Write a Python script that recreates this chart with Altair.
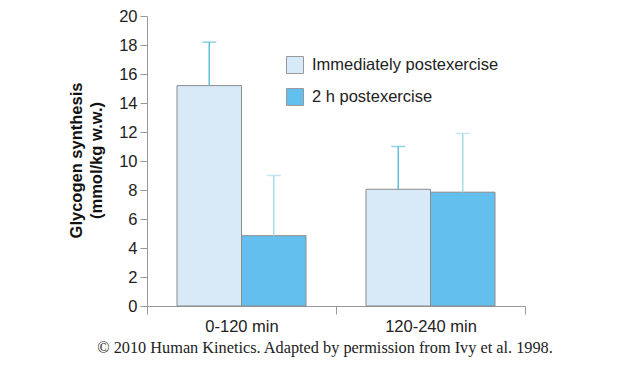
import altair as alt
import pandas as pd

periods = ["0-120 min", "120-240 min"]
series = ["Immediately postexercise", "2 h postexercise"]
means = [[15.2, 4.85], [8.05, 7.85]]
uppers = [[18.2, 9.0], [11.0, 11.9]]
bar_colors = ["#d8eaf8", "#63bfed"]
err_colors = ["#62bfda", "#a9dbe8"]
y_ticks = list(range(0, 21, 2))
footer = "© 2010 Human Kinetics. Adapted by permission from Ivy et al. 1998."

FS = 16.5

rows = []
for i, p in enumerate(periods):
    for j, s in enumerate(series):
        rows.append({"period": p, "series": s, "mean": means[i][j],
                     "upper": uppers[i][j], "ecolor": err_colors[j]})
df = pd.DataFrame(rows)

x_axis = alt.Axis(title=None, labelAngle=0, tickBand="extent", tickSize=8,
                  labelFontSize=FS, labelPadding=4, labelColor="#222",
                  domainColor="#999", tickColor="#999",
                  labelFont="Liberation Sans")
x_scale = alt.Scale(paddingInner=0, paddingOuter=0)
xo_enc = alt.XOffset("series:N", sort=series,
                     scale=alt.Scale(paddingOuter=0.465, paddingInner=0))

y_scale = alt.Scale(domain=[0, 20], nice=False)
y_axis = alt.Axis(values=y_ticks, grid=False, tickSize=7, labelOverlap=False,
                  labelFontSize=FS, labelPadding=3, labelColor="#222",
                  domainColor="#999", tickColor="#999",
                  labelFont="Liberation Sans",
                  title=["Glycogen synthesis", "(mmol/kg w.w.)"],
                  titleFontSize=FS, titleFontWeight="bold",
                  titleFont="Liberation Sans", titleColor="#111",
                  titleLineHeight=20, titleX=-71, titleY=144,
                  titleAngle=270, titleAlign="center",
                  titleBaseline="middle")

base = alt.Chart(df)

bars = base.mark_bar(stroke="#8c8c8c", strokeWidth=1).encode(
    x=alt.X("period:N", sort=periods, scale=x_scale, axis=x_axis),
    xOffset=xo_enc,
    y=alt.Y("mean:Q", scale=y_scale, axis=y_axis),
    color=alt.Color("series:N", sort=series,
                    scale=alt.Scale(domain=series, range=bar_colors),
                    legend=alt.Legend(title=None, orient="none", legendX=139,
                                      legendY=40, symbolType="square",
                                      symbolSize=289, symbolStrokeColor="#999",
                                      symbolStrokeWidth=1, symbolOpacity=1,
                                      labelFontSize=FS, labelFont="Liberation Sans",
                                      labelColor="#222", labelOffset=8,
                                      labelLimit=400,
                                      rowPadding=10, padding=0)),
)

err = base.mark_rule(strokeWidth=1.5).encode(
    x=alt.X("period:N", sort=periods, scale=x_scale, axis=x_axis),
    xOffset=xo_enc,
    y=alt.Y("mean:Q", scale=y_scale, axis=y_axis),
    y2="upper:Q",
    color=alt.Color("ecolor:N", scale=None),
)

caps = base.mark_tick(thickness=1.5, size=14).encode(
    x=alt.X("period:N", sort=periods, scale=x_scale, axis=x_axis),
    xOffset=xo_enc,
    y=alt.Y("upper:Q", scale=y_scale, axis=y_axis),
    color=alt.Color("ecolor:N", scale=None),
)

foot = alt.Chart(pd.DataFrame({"t": [footer]})).mark_text(
    font="Liberation Serif", fontSize=16.3, color="#222", align="center",
    baseline="alphabetic"
).encode(text="t:N", x=alt.value(178), y=alt.value(337))

chart = alt.layer(bars, err, caps, foot).properties(
    width=378, height=290,
    autosize=alt.AutoSizeParams(type="none"),
    padding={"left": 139, "top": 8, "right": 88, "bottom": 53},
).configure_view(strokeWidth=0).resolve_scale(color="independent")

chart.save("out.html", embed_options={"renderer": "svg", "actions": False})
